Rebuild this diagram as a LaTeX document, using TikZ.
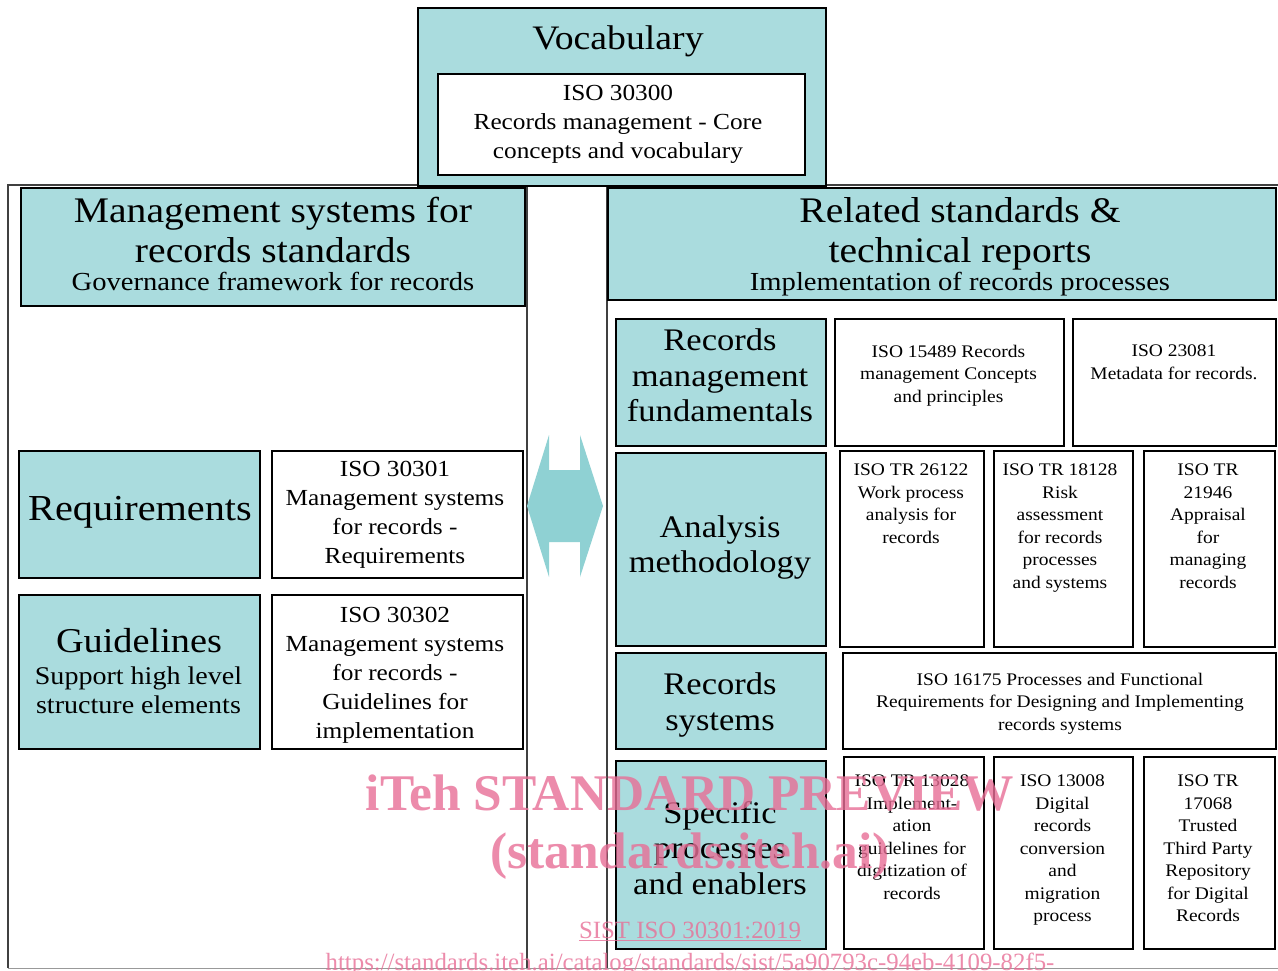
\documentclass[tikz,border=0pt]{standalone}
\usepackage{fontspec}
\setmainfont{Liberation Serif}[FakeStretch=1.1]
\newfontfamily\wmfont{Liberation Serif}
\definecolor{teallight}{RGB}{170,220,222}
\definecolor{arrowteal}{RGB}{143,209,211}
\definecolor{wmpink}{RGB}{232,110,150}
\tikzset{
  catbox/.style={draw=black,line width=1.8pt,fill=teallight,inner sep=0pt,anchor=north west},
  stdbox/.style={draw=black,line width=1.6pt,fill=white,inner sep=0pt,anchor=north west},
  cattext/.style={align=center,inner sep=0pt,font=\catfont},
  stdtext/.style={align=center,inner sep=0pt,font=\stdfont},
  smalltext/.style={align=center,inner sep=0pt,font=\smallstdfont,anchor=north},
  framebox/.style={draw=black!75,line width=1.2pt},
  wmtext/.style={inner sep=0pt,anchor=base,text=wmpink,text opacity=0.8}
}
\begin{document}
\begin{tikzpicture}[x=1pt,y=-1pt]
    \providecommand{\vocabfont}{\fontsize{34.3}{40}\selectfont}
    \providecommand{\headfont}{\fontsize{36}{40}\selectfont}
    \providecommand{\subheadfont}{\fontsize{26}{29}\selectfont}
    \providecommand{\catfont}{\fontsize{31.4}{35.5}\selectfont}
    \providecommand{\bigcatfont}{\fontsize{36.6}{40}\selectfont}
    \providecommand{\stdfont}{\fontsize{23}{29}\selectfont}
    \providecommand{\smallstdfont}{\fontsize{17.7}{22.5}\selectfont}
    \providecommand{\wmbigfont}{\wmfont\bfseries\fontsize{51.4}{58}\selectfont}
    \providecommand{\wmsmallfont}{\wmfont\fontsize{24.8}{30}\selectfont}
    \useasboundingbox[fill=white] (0,0) rectangle (1278,970);
    % frames
    \draw[framebox] (8,968) -- (8,185) -- (527,185) -- (527,968);
    \draw[framebox] (607,968) -- (607,185) -- (1278,185);
    \draw[draw=black!40,line width=1.2pt] (8,968.5) -- (1278,968.5);
    % vocabulary
    \node[catbox,minimum width=408,minimum height=178] (vocab) at (417,7) {};
    \node[stdbox,minimum width=367,minimum height=101] (iso30300) at (437,73) {};
    \node[anchor=base,inner sep=0pt,font=\vocabfont] (vocabtitle) at (618,49) {Vocabulary};
    \node[stdtext] (iso30300text) at (618,124) {ISO 30300\\Records management - Core\\concepts and vocabulary};
    % left side
    \node[catbox,minimum width=504,minimum height=118] (mgmthead) at (20,187) {};
    \node[align=center,inner sep=0pt,font=\headfont,anchor=north] (mgmttitle) at (273,197.4) {Management systems for\\records standards};
    \node[anchor=base,inner sep=0pt,font=\subheadfont] (mgmtsub) at (273,290.5) {Governance framework for records};
    \node[catbox,minimum width=241,minimum height=127] (req) at (18,450) {};
    \node[stdbox,minimum width=251,minimum height=127] (iso30301) at (271,450) {};
    \node[catbox,minimum width=241,minimum height=154] (guide) at (18,594) {};
    \node[stdbox,minimum width=251,minimum height=154] (iso30302) at (271,594) {};
    \node[inner sep=0pt,font=\bigcatfont] (reqtext) at (140,512) {Requirements};
    \node[stdtext] (iso30301text) at (395,515) {ISO 30301\\Management systems\\for records -\\Requirements};
    \node[anchor=base,inner sep=0pt,font=\fontsize{34.8}{40}\selectfont] (guidetitle) at (139,652) {Guidelines};
    \node[align=center,inner sep=0pt,font=\fontsize{25.5}{29}\selectfont,anchor=north] (guidesub) at (138.5,666.6) {Support high level\\structure elements};
    \node[stdtext] (iso30302text) at (395,675) {ISO 30302\\Management systems\\for records -\\Guidelines for\\implementation};
    % right side
    \node[catbox,minimum width=668,minimum height=112] (relhead) at (607,187) {};
    \node[align=center,inner sep=0pt,font=\headfont,anchor=north] (reltitle) at (960,197.4) {Related standards \&\\technical reports};
    \node[anchor=base,inner sep=0pt,font=\subheadfont] (relsub) at (960,290.5) {Implementation of records processes};
    \node[catbox,minimum width=210,minimum height=127] (fund) at (615,318) {};
    \node[stdbox,minimum width=229,minimum height=127] (iso15489) at (834,318) {};
    \node[stdbox,minimum width=203,minimum height=127] (iso23081) at (1072,318) {};
    \node[catbox,minimum width=210,minimum height=193] (analysis) at (615,452) {};
    \node[stdbox,minimum width=144,minimum height=196] (iso26122) at (839,450) {};
    \node[stdbox,minimum width=139,minimum height=196] (iso18128) at (993,450) {};
    \node[stdbox,minimum width=131,minimum height=196] (iso21946) at (1143,450) {};
    \node[catbox,minimum width=210,minimum height=96] (recsys) at (615,652) {};
    \node[stdbox,minimum width=433,minimum height=96] (iso16175) at (842,652) {};
    \node[catbox,minimum width=210,minimum height=188] (specific) at (615,760) {};
    \node[stdbox,minimum width=140,minimum height=192] (iso13028) at (843,756) {};
    \node[stdbox,minimum width=139,minimum height=192] (iso13008) at (993,756) {};
    \node[stdbox,minimum width=131,minimum height=192] (iso17068) at (1143,756) {};
    \node[cattext] (fundtext) at (720,375.5) {Records\\management\\fundamentals};
    \node[cattext] (analysistext) at (720,547.4) {Analysis\\methodology};
    \node[cattext] (recsystext) at (720,705) {Records\\systems};
    \node[cattext] (specifictext) at (720,848) {Specific\\processes\\and enablers};
    \node[smalltext] (iso15489text) at (948.5,345) {ISO 15489 Records\\management Concepts\\and principles};
    \node[smalltext] (iso23081text) at (1174,345) {ISO 23081\\Metadata for records.};
    \node[smalltext] (iso26122text) at (911,464) {ISO TR 26122\\Work process\\analysis for\\records};
    \node[smalltext] (iso18128text) at (1060,464) {ISO TR 18128\\Risk\\assessment\\for records\\processes\\and systems};
    \node[smalltext] (iso21946text) at (1208,464) {ISO TR\\21946\\Appraisal\\for\\managing\\records};
    \node[smalltext,anchor=center] (iso16175text) at (1060,703.4) {ISO 16175 Processes and Functional\\Requirements for Designing and Implementing\\records systems};
    \node[smalltext] (iso13028text) at (912,775) {ISO TR 13028\\Implement-\\ation\\guidelines for\\digitization of\\records};
    \node[smalltext] (iso13008text) at (1062.5,775) {ISO 13008\\Digital\\records\\conversion\\and\\migration\\process};
    \node[smalltext] (iso17068text) at (1208,775) {ISO TR\\17068\\Trusted\\Third Party\\Repository\\for Digital\\Records};
    % double arrow
    \fill[arrowteal] (527,506) -- (549,435) -- (549,470) -- (580,470) -- (580,435) -- (603,506)
      -- (580,577) -- (580,542) -- (549,542) -- (549,577) -- cycle;
    % watermark
    \node[wmtext,font=\wmbigfont] (wmtitle) at (690,810) {iTeh STANDARD PREVIEW};
    \node[wmtext,font=\wmbigfont] (wmsite) at (690,868) {(standards.iteh.ai)};
    \node[wmtext,font=\wmsmallfont] (wmsist) at (690,938) {\underline{SIST ISO 30301:2019}};
    \node[wmtext,font=\wmsmallfont] (wmurl) at (690,970) {https://standards.iteh.ai/catalog/standards/sist/5a90793c-94eb-4109-82f5-};
\end{tikzpicture}
\end{document}
